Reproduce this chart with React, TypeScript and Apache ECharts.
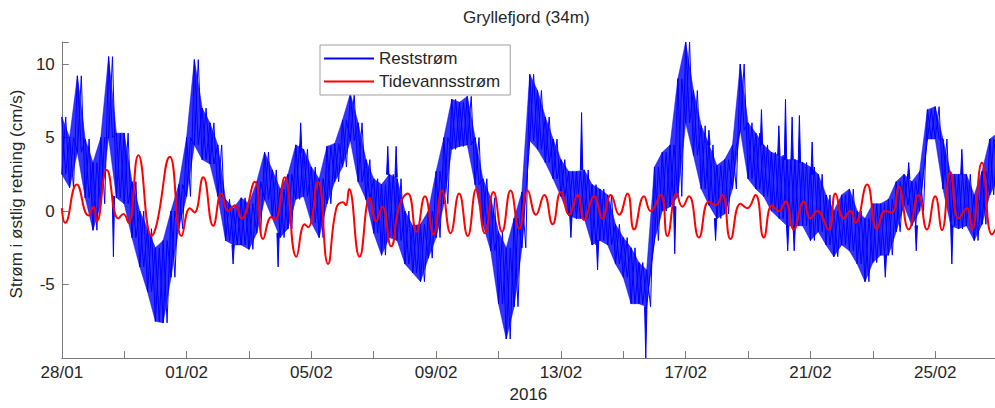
import React, { useEffect, useRef } from 'react';
import * as echarts from 'echarts';

const TITLE = 'Gryllefjord (34m)';
const Y_NAME = 'Strøm i østlig retning (cm/s)';
const X_NAME = '2016';
const NAME_REST = 'Reststrøm';
const NAME_TIDE = 'Tidevannsstrøm';

// Time in hours since 28/01/2016 00:00
const X_MAX_H = 718;
const BLUE_STEP_H = 6;

// Reststrøm: upper / lower envelope of the dense noisy core, one pair every 6 h
const blueUpper = [
  6.4, 5.0, 9.2, 4.9, 3.3, 5.0, 10.5, 5.3, 5.3, 2.0,
  0.0, -1.2, -2.5, -2.0, 0.0, 1.8, 5.0, 10.3, 7.0, 6.0,
  4.5, 0.8, 0.2, 0.9, 0.5, 2.0, 4.0, 2.8, 1.5, 2.5,
  4.5, 4.2, 3.0, 2.2, 4.4, 4.6, 6.2, 8.0, 6.0, 3.5,
  2.2, 1.8, 2.5, 2.2, 0.0, -1.0, -0.9, 0.0, 2.7, 5.0,
  7.6, 7.4, 7.8, 5.0, 2.2, 0.9, -1.4, -2.5, -0.5, 1.3,
  9.3, 8.2, 6.4, 4.9, 3.5, 2.7, 2.7, 2.8, 1.8, 1.5,
  1.1, -0.9, -1.8, -2.5, -3.5, -4.0, 3.0, 4.0, 4.5, 9.0,
  11.5, 8.2, 5.8, 4.5, 3.1, 3.5, 4.5, 10.0, 6.0, 5.3,
  4.5, 4.0, 3.8, 3.5, 3.5, 3.3, 3.0, 2.5, 1.1, 0.0,
  1.1, 1.5, 0.0, -0.5, 0.5, 0.5, 0.8, 2.0, 2.5, 2.0,
  2.7, 6.9, 7.1, 4.9, 2.5, 2.5, 2.5, 1.1, 2.7, 4.9,
  5.3,
];
const blueLower = [
  2.5, 1.6, 4.0, 0.9, -1.3, 0.5, 5.0, 0.9, 0.5, -1.8,
  -3.8, -5.5, -7.5, -7.6, -4.5, -1.2, 1.0, 4.5, 3.5, 3.2,
  1.0, -2.0, -2.3, -2.3, -2.6, -1.5, 0.8, -0.5, -1.8, -1.2,
  0.8, 1.0, -0.8, -1.8, 0.5, 2.0, 3.0, 4.8, 2.0, 0.8,
  -1.5, -3.0, -1.8, -2.0, -3.6, -4.2, -4.8, -3.2, -1.8, 0.5,
  4.2, 4.4, 4.5, 1.8, -0.9, -2.7, -6.3, -8.7, -6.5, -2.5,
  4.8, 4.2, 3.3, 2.2, 1.0, -0.3, -0.5, -0.5, -2.3, -2.0,
  -2.3, -3.6, -4.5, -6.3, -6.3, -6.5, -2.0, 0.0, 0.3, 1.0,
  6.0, 3.8, 1.5, 0.4, -0.5, -0.2, 1.5, 5.5, 2.2, 1.5,
  1.0, 0.0, -0.5, -1.0, -1.0, -1.0, -2.0, -1.4, -2.3, -3.1,
  -2.3, -2.7, -3.6, -4.8, -3.5, -3.0, -3.0, -1.4, 0.4, -1.0,
  0.0, 4.9, 4.9, 1.5, -1.0, -1.2, -1.0, -2.0, -0.9, 1.1,
  2.2,
];

// Reststrøm: isolated spikes outside the core band [hours, base, tip]
const blueSpikes = [
  [39.7, 1.0, -3.1], [131.8, -2.3, -3.6], [166.4, -1.5, -3.8], [183.8, 4.0, 6.0],
  [250.8, 2.5, 4.4], [257.2, 2.3, 4.4], [391.7, -0.3, -1.8], [399.9, 2.8, 6.7],
  [412.2, -2.0, -4.0], [449.3, -6.5, -10.0], [471.6, 0.3, -2.9], [497.9, 4.5, 5.5],
  [503, -0.5, -2.0], [538.3, 4.5, 6.9], [551.7, 3.8, 5.8], [556.8, 3.5, 7.6],
  [558.5, -1.0, -2.7], [561.9, 3.5, 6.4], [563.5, -1.0, -2.7], [567.5, 3.3, 6.5],
  [577.3, 2.5, 4.7], [633.6, -3.0, -4.5], [651.6, 2.2, 3.3], [657.4, -1.0, -2.7],
  [684.8, -1.0, -3.6], [692.5, 2.5, 4.2],
];

// Tidevannsstrøm: turning points (hours, cm/s)
const redHours = [
  0, 2.6, 11.5, 20.5, 24.3, 26.9, 34.6, 43.5, 47.4, 51.2,
  58.9, 69.1, 73, 83.2, 92.2, 98.6, 102, 108.8, 116.5, 122.9,
  128, 133.1, 138.2, 148.5, 154.9, 161.3, 164, 171.5, 180.5, 186.9,
  189.5, 197.1, 204.8, 211.2, 216.3, 218.5, 221, 229.1, 237, 241.9,
  246.5, 253.4, 259.8, 266.2, 272.8, 279.4, 286, 292.5, 299.1, 305.7,
  312.3, 318.9, 325.5, 332.1, 338.7, 345.3, 351.9, 358.4, 364.8, 371.2,
  377.6, 384, 390.4, 396.8, 401.9, 409.6, 416, 422.4, 428.8, 435.2,
  440.3, 448, 453.1, 460.8, 465.9, 473, 477.4, 482.5, 490.2, 497.9,
  503, 508.1, 514.5, 522.2, 527.3, 533.7, 540.1, 546.5, 551.7, 556.8,
  563.2, 570.9, 576, 581.1, 590, 595.2, 601.6, 606.8, 610.6, 619.6,
  627.2, 633.6, 638.8, 643.9, 651.6, 659.2, 665.6, 672, 677.2, 683.6,
  690, 696.4, 700.2, 707.9, 715.6, 720,
];
const redValues = [
  0.2, -0.8, 1.8, -0.3, 0.3, -0.7, 2.8, -0.5, -0.2, -0.8,
  3.8, -1.7, -0.9, 3.7, -1.7, 0.2, -0.1, 2.3, -1.0, 1.2,
  0.0, 0.4, -0.5, 2.0, -1.9, -0.4, -0.6, 2.3, -3.1, -0.9,
  -1.1, 2.0, -3.6, 0.2, 0.6, 0.4, 1.5, -3.1, 0.9, -0.7,
  0.3, -2.4, 0.4, 1.2, -1.4, 1.0, -1.6, 1.4, -1.5, 1.2,
  -1.7, 1.5, -1.5, 1.3, -1.4, 1.4, -1.2, 1.4, -0.25, 1.1,
  -0.9, 1.3, -0.25, 1.1, -0.6, 1.0, -0.5, 1.1, -0.25, 1.2,
  -1.25, 1.0, 0.0, 1.1, -1.7, 1.2, 0.3, 1.0, -1.8, 0.65,
  0.4, 1.1, -1.9, 0.5, 0.2, 1.1, -1.8, 0.4, 0.0, 0.65,
  -1.25, 0.65, -0.5, 0.0, -1.25, 1.2, -0.5, 0.0, -0.8, 1.8,
  -1.25, 0.0, -0.1, 1.65, -1.25, 1.1, -1.25, 1.0, -1.3, 2.65,
  -0.5, 0.2, -1.25, 3.3, -1.6, -1.0,
];

const FONT = "'Liberation Sans', Arial, Helvetica, sans-serif";
const TEXT_COLOR = '#262626';
const AXIS_COLOR = '#7a7a7a';
const BLUE = '#0000ff';

function dateLabel(h: number): string {
  const d = 28 + Math.round(h / 24);
  const day = d > 31 ? d - 31 : d;
  const month = d > 31 ? '02' : '01';
  return String(day).padStart(2, '0') + '/' + month;
}

export default function App() {
  const ref = useRef<HTMLDivElement>(null);

  useEffect(() => {
    if (!ref.current) return;
    const chart = echarts.init(ref.current, undefined, { renderer: 'svg' });

    const zigA: number[][] = [];
    const zigB: number[][] = [];
    const bandSegs: number[][] = [];
    blueUpper.forEach((u, i) => {
      const t = i * BLUE_STEP_H;
      const l = blueLower[i];
      zigA.push([t, u], [t + BLUE_STEP_H / 2, l]);
      zigB.push([t, l], [t + BLUE_STEP_H / 2, u]);
      if (i + 1 < blueUpper.length) {
        bandSegs.push([t, l, u, t + BLUE_STEP_H, blueLower[i + 1], blueUpper[i + 1]]);
      }
    });
    const red = redHours.map((h, i) => [h, redValues[i]]);

    const blueLine = {
      type: 'line',
      name: NAME_REST,
      showSymbol: false,
      symbol: 'none',
      color: BLUE,
      lineStyle: { color: BLUE, width: 1 },
      silent: true,
      clip: true,
      z: 2,
    };

    chart.setOption({
      animation: false,
      backgroundColor: '#ffffff',
      title: {
        text: TITLE,
        left: 463,
        top: 9,
        padding: 0,
        textStyle: { fontFamily: FONT, fontSize: 17, fontWeight: 'normal', color: TEXT_COLOR },
      },
      legend: {
        orient: 'vertical',
        left: 320,
        top: 45,
        padding: [5, 10, 5, 4],
        itemGap: 6,
        itemWidth: 50,
        itemHeight: 2,
        icon: 'rect',
        borderColor: '#a0a0a0',
        borderWidth: 1,
        backgroundColor: '#ffffff',
        data: [NAME_REST, NAME_TIDE],
        textStyle: { fontFamily: FONT, fontSize: 17, color: TEXT_COLOR },
      },
      grid: { left: 60, right: 0, top: 42, bottom: 46 },
      xAxis: {
        type: 'value',
        min: 0,
        max: X_MAX_H,
        interval: 48,
        name: X_NAME,
        nameLocation: 'middle',
        nameGap: 27,
        nameTextStyle: { fontFamily: FONT, fontSize: 17, color: TEXT_COLOR },
        axisLine: { show: true, onZero: false, lineStyle: { color: AXIS_COLOR } },
        axisTick: { show: true, inside: true, length: 7, lineStyle: { color: AXIS_COLOR } },
        axisLabel: {
          fontFamily: FONT,
          fontSize: 17,
          color: TEXT_COLOR,
          margin: 6,
          showMaxLabel: false,
          formatter: (v: number) => (v % 96 === 0 ? dateLabel(v) : ''),
        },
        splitLine: { show: false },
      },
      yAxis: {
        type: 'value',
        min: -10,
        max: 11.5,
        interval: 5,
        name: Y_NAME,
        nameLocation: 'middle',
        nameGap: 31,
        nameRotate: 90,
        nameTextStyle: { fontFamily: FONT, fontSize: 17, color: TEXT_COLOR, padding: [0, 0, 0, 12] },
        axisLine: { show: true, lineStyle: { color: AXIS_COLOR } },
        axisTick: { show: true, inside: true, length: 7, lineStyle: { color: AXIS_COLOR } },
        axisLabel: {
          fontFamily: FONT,
          fontSize: 17,
          color: TEXT_COLOR,
          margin: 7,
          formatter: (v: number) => (v % 5 === 0 && v > -10 && v < 11 ? String(v) : ''),
        },
        splitLine: { show: false },
      },
      series: [
        {
          type: 'custom',
          name: 'band',
          data: bandSegs,
          encode: { x: [0, 3], y: [1, 2, 4, 5] },
          clip: true,
          silent: true,
          z: 1,
          renderItem: (params: any, api: any) => {
            const p1 = api.coord([api.value(0), api.value(1)]);
            const p2 = api.coord([api.value(3), api.value(4)]);
            const p3 = api.coord([api.value(3), api.value(5)]);
            const p4 = api.coord([api.value(0), api.value(2)]);
            return {
              type: 'polygon',
              shape: { points: [p1, p2, p3, p4] },
              style: { fill: BLUE, stroke: BLUE, lineWidth: 0.6, opacity: 0.8 },
            };
          },
        },
        {
          type: 'custom',
          name: 'spikes',
          data: blueSpikes,
          encode: { x: 0, y: [1, 2] },
          clip: true,
          silent: true,
          z: 2,
          renderItem: (params: any, api: any) => {
            const h = api.value(0);
            const a = api.coord([h - 0.9, api.value(1)]);
            const b = api.coord([h, api.value(2)]);
            const c = api.coord([h + 0.9, api.value(1)]);
            return {
              type: 'polygon',
              shape: { points: [a, b, c] },
              style: { fill: BLUE, stroke: BLUE, lineWidth: 1 },
            };
          },
        },
        { ...blueLine, data: zigA },
        { ...blueLine, data: zigB },
        {
          type: 'line',
          name: NAME_TIDE,
          data: red,
          showSymbol: false,
          symbol: 'none',
          smooth: 0.5,
          color: '#ff0000',
          lineStyle: { color: '#ff0000', width: 2 },
          silent: true,
          clip: true,
          z: 3,
        },
      ],
    });

    return () => chart.dispose();
  }, []);

  return (
    <div
      ref={ref}
      style={{ position: 'absolute', left: 0, top: 0, width: 995, height: 408, background: '#fff' }}
    />
  );
}
